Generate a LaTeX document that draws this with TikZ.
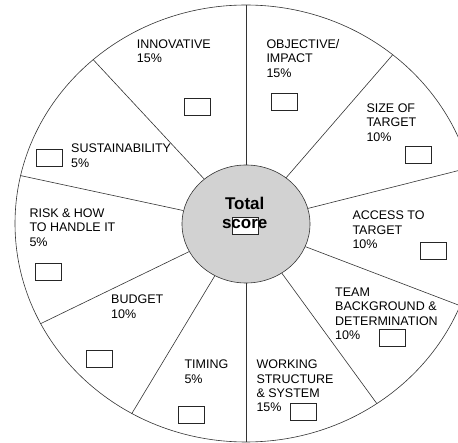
\documentclass[tikz,border=0pt]{standalone}
\usepackage{fontspec}
\setmainfont{Liberation Sans}
\usetikzlibrary{shapes.geometric}

\tikzset{
  wheel/.style={ellipse, draw=black!80, line width=0.6pt, inner sep=0pt},
  divider/.style={draw=black!80, line width=0.6pt},
  label/.style={anchor=north west, align=left, inner sep=0pt, font=\fontsize{12.5}{14.4}\selectfont},
  scorebox/.style={draw=black!85, line width=0.7pt, fill=white, minimum width=26pt, minimum height=17pt, inner sep=0pt},
}

\begin{document}
\begin{tikzpicture}[x=1pt,y=1pt]
\useasboundingbox (0,0) rectangle (458,-443);
\clip (0,0) rectangle (458,-443);
% wheel and hub
\node[wheel, minimum width=462pt, minimum height=437pt] (rim) at (246,-223.5) {};
\node[wheel, fill=gray!35, minimum width=128pt, minimum height=118pt] (hub) at (246,-224) {};
% dividers
\foreach \a in {90,49.4,14.2,-21,-54.3,-90,-121.8,-154.4,168.8,133.5}
  \draw[divider] (hub) -- (rim.\a);
% hub text
\node[scorebox] (hubbox) at (245.3,-225.8) {};
\node[anchor=north, align=center, inner sep=0pt, font=\fontsize{17}{19.7}\selectfont\bfseries] (hubtext) at (244.7,-196.7) {Total\\score};
% labels
\node[label] (innovative) at (136.7,-39.3) {INNOVATIVE\\15\%};
\node[label] (objective) at (266.3,-39.3) {OBJECTIVE/\\IMPACT\\15\%};
\node[label] (size) at (366.3,-103.3) {SIZE OF\\TARGET\\10\%};
\node[label] (access) at (352.3,-210.7) {ACCESS TO\\TARGET\\10\%};
\node[label] (team) at (335,-287.7) {TEAM\\BACKGROUND \&\\DETERMINATION\\10\%};
\node[label] (working) at (256.3,-359.7) {WORKING\\STRUCTURE\\\& SYSTEM\\15\%};
\node[label] (timing) at (184.3,-359.7) {TIMING\\5\%};
\node[label] (budget) at (111,-294.7) {BUDGET\\10\%};
\node[label] (risk) at (29.3,-208.3) {RISK \& HOW\\TO HANDLE IT\\5\%};
\node[label] (sustain) at (71,-144) {SUSTAINABILITY\\5\%};
% score boxes
\node[scorebox] (innovativebox) at (197.2,-106.7) {};
\node[scorebox] (objectivebox) at (284.8,-102.3) {};
\node[scorebox] (sizebox) at (418.7,-154.5) {};
\node[scorebox] (accessbox) at (433.2,-251) {};
\node[scorebox] (teambox) at (392.3,-338) {};
\node[scorebox] (workingbox) at (303.7,-411.7) {};
\node[scorebox] (timingbox) at (191.2,-414.7) {};
\node[scorebox] (budgetbox) at (99,-359.3) {};
\node[scorebox] (riskbox) at (48.7,-272.2) {};
\node[scorebox] (sustainbox) at (49.5,-157.7) {};
\end{tikzpicture}
\end{document}
